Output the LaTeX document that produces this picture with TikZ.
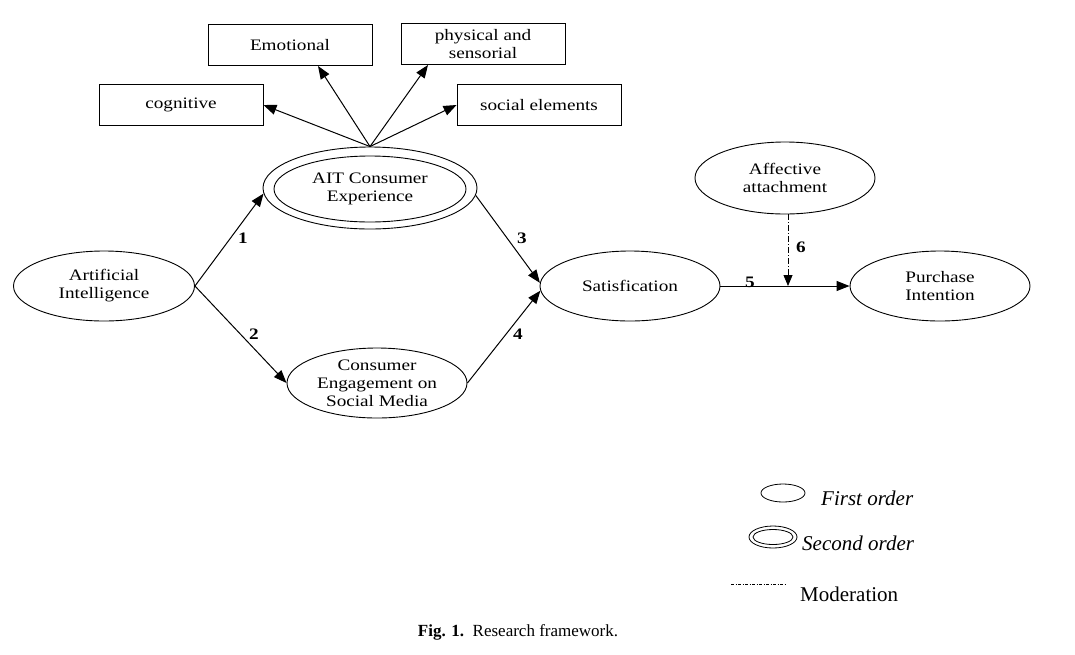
\documentclass[tikz,border=0pt]{standalone}
\usepackage{fontspec}
\setmainfont{Liberation Serif}
\newfontfamily\diagfont{Liberation Serif}[FakeStretch=1.2]
\usetikzlibrary{arrows.meta,shapes.geometric,calc}
\begin{document}
\begin{tikzpicture}[x=1pt,y=-1pt,
  every node/.style={inner sep=0pt},
  txt/.style={font=\diagfont\fontsize{16}{18}\selectfont, align=center},
  boxnode/.style={txt, draw, line width=0.9pt, minimum width=164pt, minimum height=41pt},
  ell/.style={txt, draw, line width=0.9pt, ellipse, minimum width=180pt, minimum height=70pt},
  arr/.style={line width=1pt, -{Triangle[length=13pt,width=10pt]}},
  num/.style={font=\diagfont\bfseries\fontsize{16}{18}\selectfont},
  mod/.style={line width=0.8pt, dash pattern=on 6pt off 2pt on 1pt off 2pt},
  legtxt/.style={font=\fontsize{21}{24}\selectfont, anchor=west}
]
\useasboundingbox (0,0) rectangle (1075,654);
\fill[white] (0,0) rectangle (1075,654);

% boxes
\node[boxnode] (emo) at (290,45) {Emotional};
\node[boxnode] (phy) at (483,44) {physical and\\sensorial};
\node[boxnode] (cog) at (181,105) {cognitive};
\node[boxnode] (soc) at (539,105) {social elements};

% ellipses
\node[ell, minimum width=214pt, minimum height=82pt] (ait) at (370,188) {};
\node[ell, minimum width=192pt, minimum height=66pt] (aiti) at (370,189) {AIT Consumer\\Experience};
\node[ell, minimum width=181pt] (ai) at (104,286) {Artificial\\Intelligence};
\node[ell] (ce) at (377,383) {Consumer\\Engagement on\\Social Media};
\node[ell] (sat) at (630,286) {Satisfication};
\node[ell] (pi) at (940,286) {Purchase\\Intention};
\node[ell, minimum height=72pt] (aa) at (785,178) {Affective\\attachment};

% arrows from AIT to dimensions
\draw[arr] (ait.north) -- (cog.east);
\draw[arr] (ait.north) -- ($(emo.south)+(28,0)$);
\draw[arr] (ait.north) -- ($(phy.south)+(-55,0)$);
\draw[arr] (ait.north) -- (soc.west);

% structural paths
\draw[arr] (ai.east) -- (ait.183);
\node[num] (n1) at (243,238) {1};
\draw[arr] (ai.east) -- (ce.west);
\node[num] (n2) at (254,334) {2};
\draw[arr] (ait.356) -- (sat.178);
\node[num] (n3) at (522,238) {3};
\draw[arr] (ce.east) -- (sat.183);
\node[num] (n4) at (518,334) {4};
\coordinate (m) at (788,286);
\draw[arr] (sat.east) -- (pi.west);
\node[num] (n5) at (750,282) {5};
\draw[mod, -{Triangle[length=11pt,width=9pt]}] (aa.south -| m) -- (m);
\node[num] (n6) at (801,247) {6};

% legend
\node[draw, line width=0.8pt, ellipse, minimum width=44pt, minimum height=18pt] (l1) at (783,493) {};
\node[legtxt] (t1) at (821,498) {\itshape First order};
\node[draw, line width=0.8pt, ellipse, minimum width=48pt, minimum height=22pt] (l2) at (773,537) {};
\node[draw, line width=0.8pt, ellipse, minimum width=40pt, minimum height=15pt] (l2i) at (773,537) {};
\node[legtxt] (t2) at (802,543) {\itshape Second order};
\coordinate (ma) at (731,584);
\coordinate (mb) at (785,584);
\draw[line width=0.6pt, dash pattern=on 3pt off 1.5pt on 1pt off 1.5pt] (ma) -- (mb);
\node[legtxt] (t3) at (800,594) {Moderation};

% caption
\node[font=\fontsize{17}{20}\selectfont] (cap) at (518,632) {\textbf{Fig. 1.}\enspace Research framework.};
\end{tikzpicture}
\end{document}
